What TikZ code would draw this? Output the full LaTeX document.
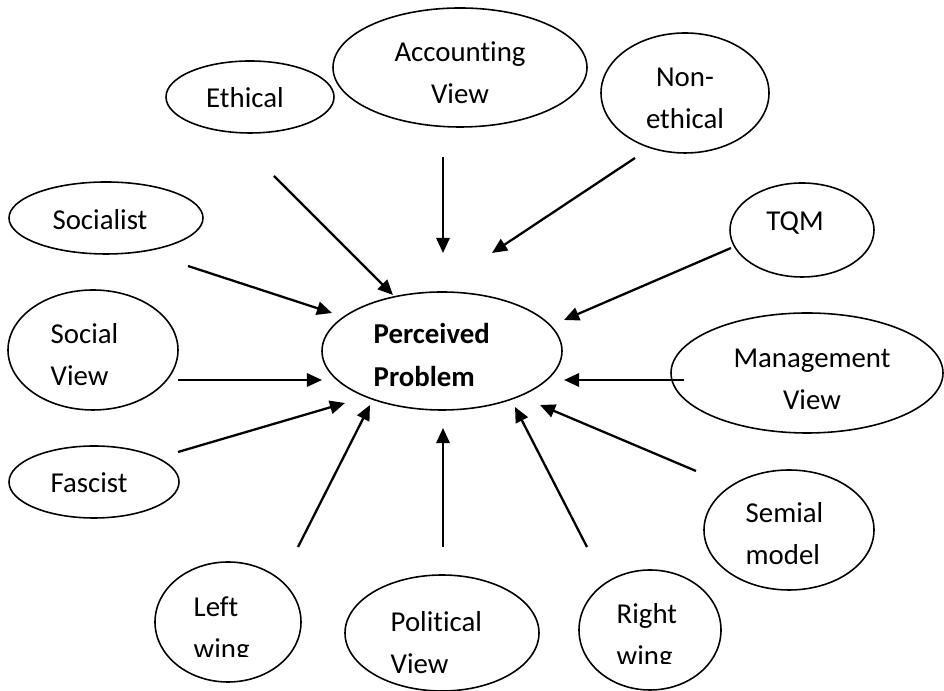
\documentclass[tikz,border=0pt]{standalone}
\usepackage{fontspec}
\setmainfont{Carlito}[Ligatures=NoCommon]
\usetikzlibrary{shapes.geometric, arrows.meta}

\begin{document}
\begin{tikzpicture}[x=1cm, y=-1cm,
        bubble/.style={draw, ellipse, line width=0.45pt, inner sep=0pt},
        lbl/.style={inner sep=0pt, align=left, font=\fontsize{8.2}{12}\selectfont},
        arr/.style={line width=0.65pt, -{Triangle[length=4.3pt, width=3.8pt]}}]
        \useasboundingbox (0,0) rectangle (9.44,6.91);

        \node[bubble, minimum width=1.68cm, minimum height=0.72cm] (ethical) at (2.50,0.97) {};
        \node[bubble, minimum width=2.54cm, minimum height=1.19cm] (account) at (4.60,0.675) {};
        \node[bubble, minimum width=1.68cm, minimum height=1.20cm] (nonethic) at (6.85,0.93) {};
        \node[bubble, minimum width=1.94cm, minimum height=0.72cm] (socialist) at (1.06,2.18) {};
        \node[bubble, minimum width=1.44cm, minimum height=0.94cm] (tqm) at (8.02,2.30) {};
        \node[bubble, minimum width=1.70cm, minimum height=1.20cm] (social) at (0.93,3.50) {};
        \node[bubble, minimum width=2.40cm, minimum height=1.18cm] (prob) at (4.42,3.51) {};
        \node[bubble, minimum width=2.72cm, minimum height=1.20cm] (mgmt) at (8.07,3.73) {};
        \node[bubble, minimum width=1.70cm, minimum height=0.72cm] (fascist) at (0.94,4.82) {};
        \node[bubble, minimum width=1.70cm, minimum height=1.20cm] (semial) at (7.89,5.30) {};
        \node[bubble, minimum width=1.46cm, minimum height=1.20cm] (leftw) at (2.28,6.22) {};
        \node[bubble, minimum width=1.94cm, minimum height=1.16cm] (polit) at (4.42,6.33) {};
        \node[bubble, minimum width=1.42cm, minimum height=1.20cm] (rightw) at (6.50,6.30) {};

        \node[lbl] (ethical-t) at (2.45,0.98) {Ethical};
        \node[lbl, align=center] (account-t) at (4.60,0.73) {Accounting\\View};
        \node[lbl, align=center] (nonethic-t) at (6.85,0.98) {Non-\\ethical};
        \node[lbl] (socialist-t) at (1.00,2.20) {Socialist};
        \node[lbl] (tqm-t) at (7.95,2.23) {TQM};
        \node[lbl, anchor=west] (social-t) at (0.50,3.55) {Social\\View};
        \node[lbl, anchor=west, font=\fontsize{8.2}{12}\selectfont\bfseries] (prob-t) at (3.73,3.55) {Perceived\\Problem};
        \node[lbl, align=center] (mgmt-t) at (8.12,3.79) {Management\\View};
        \node[lbl] (fascist-t) at (0.89,4.83) {Fascist};
        \node[lbl, anchor=west] (semial-t) at (7.45,5.34) {Semial\\model};
        \node[lbl, anchor=west] (polit-t) at (3.90,6.43) {Political\\View};
        % text boxes cut off at the bottom
        \begin{scope}
            \clip (1.80,5.70) rectangle (2.80,6.57);
            \node[lbl, anchor=west] (leftw-t) at (1.93,6.30) {Left\\wing};
        \end{scope}
        \begin{scope}
            \clip (6.00,5.70) rectangle (7.00,6.64);
            \node[lbl, anchor=west] (rightw-t) at (6.16,6.37) {Right\\wing};
        \end{scope}

        \coordinate (ethical-s) at (2.74,1.76);
        \coordinate (ethical-e) at (3.93,2.95);
        \coordinate (account-s) at (4.43,1.57);
        \coordinate (account-e) at (4.43,2.53);
        \coordinate (nonethic-s) at (6.35,1.58);
        \coordinate (nonethic-e) at (4.92,2.53);
        \coordinate (socialist-s) at (1.88,2.66);
        \coordinate (socialist-e) at (3.32,3.13);
        \coordinate (tqm-s) at (7.31,2.48);
        \coordinate (tqm-e) at (5.64,3.20);
        \coordinate (social-s) at (1.78,3.80);
        \coordinate (social-e) at (3.22,3.80);
        \coordinate (mgmt-s) at (6.84,3.80);
        \coordinate (mgmt-e) at (5.64,3.80);
        \coordinate (fascist-s) at (1.78,4.52);
        \coordinate (fascist-e) at (3.45,4.03);
        \coordinate (semial-s) at (6.96,4.71);
        \coordinate (semial-e) at (5.40,4.05);
        \coordinate (leftw-s) at (2.98,5.47);
        \coordinate (leftw-e) at (3.70,4.05);
        \coordinate (polit-s) at (4.43,5.47);
        \coordinate (polit-e) at (4.43,4.28);
        \coordinate (rightw-s) at (5.87,5.47);
        \coordinate (rightw-e) at (5.15,4.07);

        \draw[arr] (ethical-s) -- (ethical-e);
        \draw[arr] (account-s) -- (account-e);
        \draw[arr] (nonethic-s) -- (nonethic-e);
        \draw[arr] (socialist-s) -- (socialist-e);
        \draw[arr] (tqm-s) -- (tqm-e);
        \draw[arr] (social-s) -- (social-e);
        \draw[arr] (mgmt-s) -- (mgmt-e);
        \draw[arr] (fascist-s) -- (fascist-e);
        \draw[arr] (semial-s) -- (semial-e);
        \draw[arr] (leftw-s) -- (leftw-e);
        \draw[arr] (polit-s) -- (polit-e);
        \draw[arr] (rightw-s) -- (rightw-e);
    \end{tikzpicture}
\end{document}
